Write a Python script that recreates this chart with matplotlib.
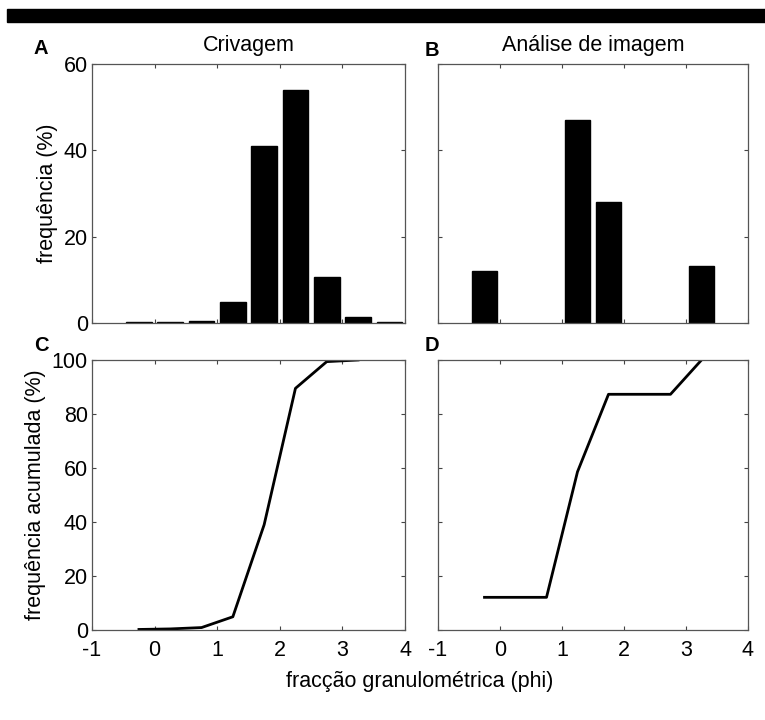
import numpy as np
import matplotlib.pyplot as plt
from matplotlib.patches import Rectangle

plt.rcParams['font.family'] = ['Liberation Sans', 'DejaVu Sans']
plt.rcParams['axes.unicode_minus'] = False

# phi class centres
phi_a = [-0.25, 0.25, 0.75, 1.25, 1.75, 2.25, 2.75, 3.25, 3.75]
freq_a = [0.2, 0.2, 0.5, 4.9, 41.0, 54.0, 10.7, 1.5, 0.2]

phi_b = [-0.25, 1.25, 1.75, 3.25]
freq_b = [12.1, 47.0, 28.0, 13.1]

phi_c = [-0.25, 0.25, 0.75, 1.25, 1.75, 2.25, 2.75, 3.25]
cum_c = [0.2, 0.4, 0.9, 4.9, 39.0, 89.5, 99.4, 100.0]

phi_d = [-0.25, 0.25, 0.75, 1.25, 1.75, 2.25, 2.75, 3.25]
cum_d = [12.1, 12.1, 12.1, 58.6, 87.3, 87.3, 87.3, 100.0]

xticks = [-1, 0, 1, 2, 3, 4]
W, H = 765, 720
FS = 15.5

fig = plt.figure(figsize=(W / 100, H / 100), dpi=100)

# black band at the top
fig.patches.append(Rectangle((7 / W, 1 - 22 / H), 1, 13 / H, transform=fig.transFigure,
                             color='black', zorder=0))


def make_ax(x0, x1, y0, y1):
    ax = fig.add_axes([x0 / W, 1 - y1 / H, (x1 - x0) / W, (y1 - y0) / H])
    ax.set_xlim(-1, 4)
    ax.set_xticks(xticks)
    ax.tick_params(direction='in', top=True, right=True, length=3, width=0.8,
                   color='#444444', labelsize=FS)
    ax.tick_params(axis='x', pad=7)
    ax.tick_params(axis='y', pad=3)
    for s in ax.spines.values():
        s.set_color('#555555')
        s.set_linewidth(0.9)
    return ax


ax_a = make_ax(92, 405, 64, 323)
ax_b = make_ax(438, 748, 64, 323)
ax_c = make_ax(92, 405, 360, 630)
ax_d = make_ax(438, 748, 360, 630)

for ax, x, y in [(ax_a, phi_a, freq_a), (ax_b, phi_b, freq_b)]:
    ax.bar(x, y, width=0.41, color='black', edgecolor='black')
    ax.set_ylim(0, 60)
    ax.set_yticks([0, 20, 40, 60])
    ax.tick_params(labelbottom=False)

for ax, x, y in [(ax_c, phi_c, cum_c), (ax_d, phi_d, cum_d)]:
    ax.plot(x, y, color='black', lw=2)
    ax.set_ylim(0, 100)
    ax.set_yticks([0, 20, 40, 60, 80, 100])

ax_b.tick_params(labelleft=False)
ax_d.tick_params(labelleft=False)

ax_a.set_title('Crivagem', fontsize=FS, pad=9)
ax_b.set_title('Análise de imagem', fontsize=FS, pad=9)
ax_a.set_ylabel('frequência (%)', fontsize=FS, labelpad=4)
ax_c.set_ylabel('frequência acumulada (%)', fontsize=FS, labelpad=4)
fig.text(420 / W, 1 - 682 / H, 'fracção granulométrica (phi)', fontsize=FS,
         ha='center', va='center')

for lbl, x, y in [('A', 41, 48), ('B', 432, 50), ('C', 41, 345), ('D', 432, 345)]:
    fig.text(x / W, 1 - y / H, lbl, fontsize=14.5, fontweight='bold',
             ha='center', va='center')

fig.savefig('out.png', dpi=100)
